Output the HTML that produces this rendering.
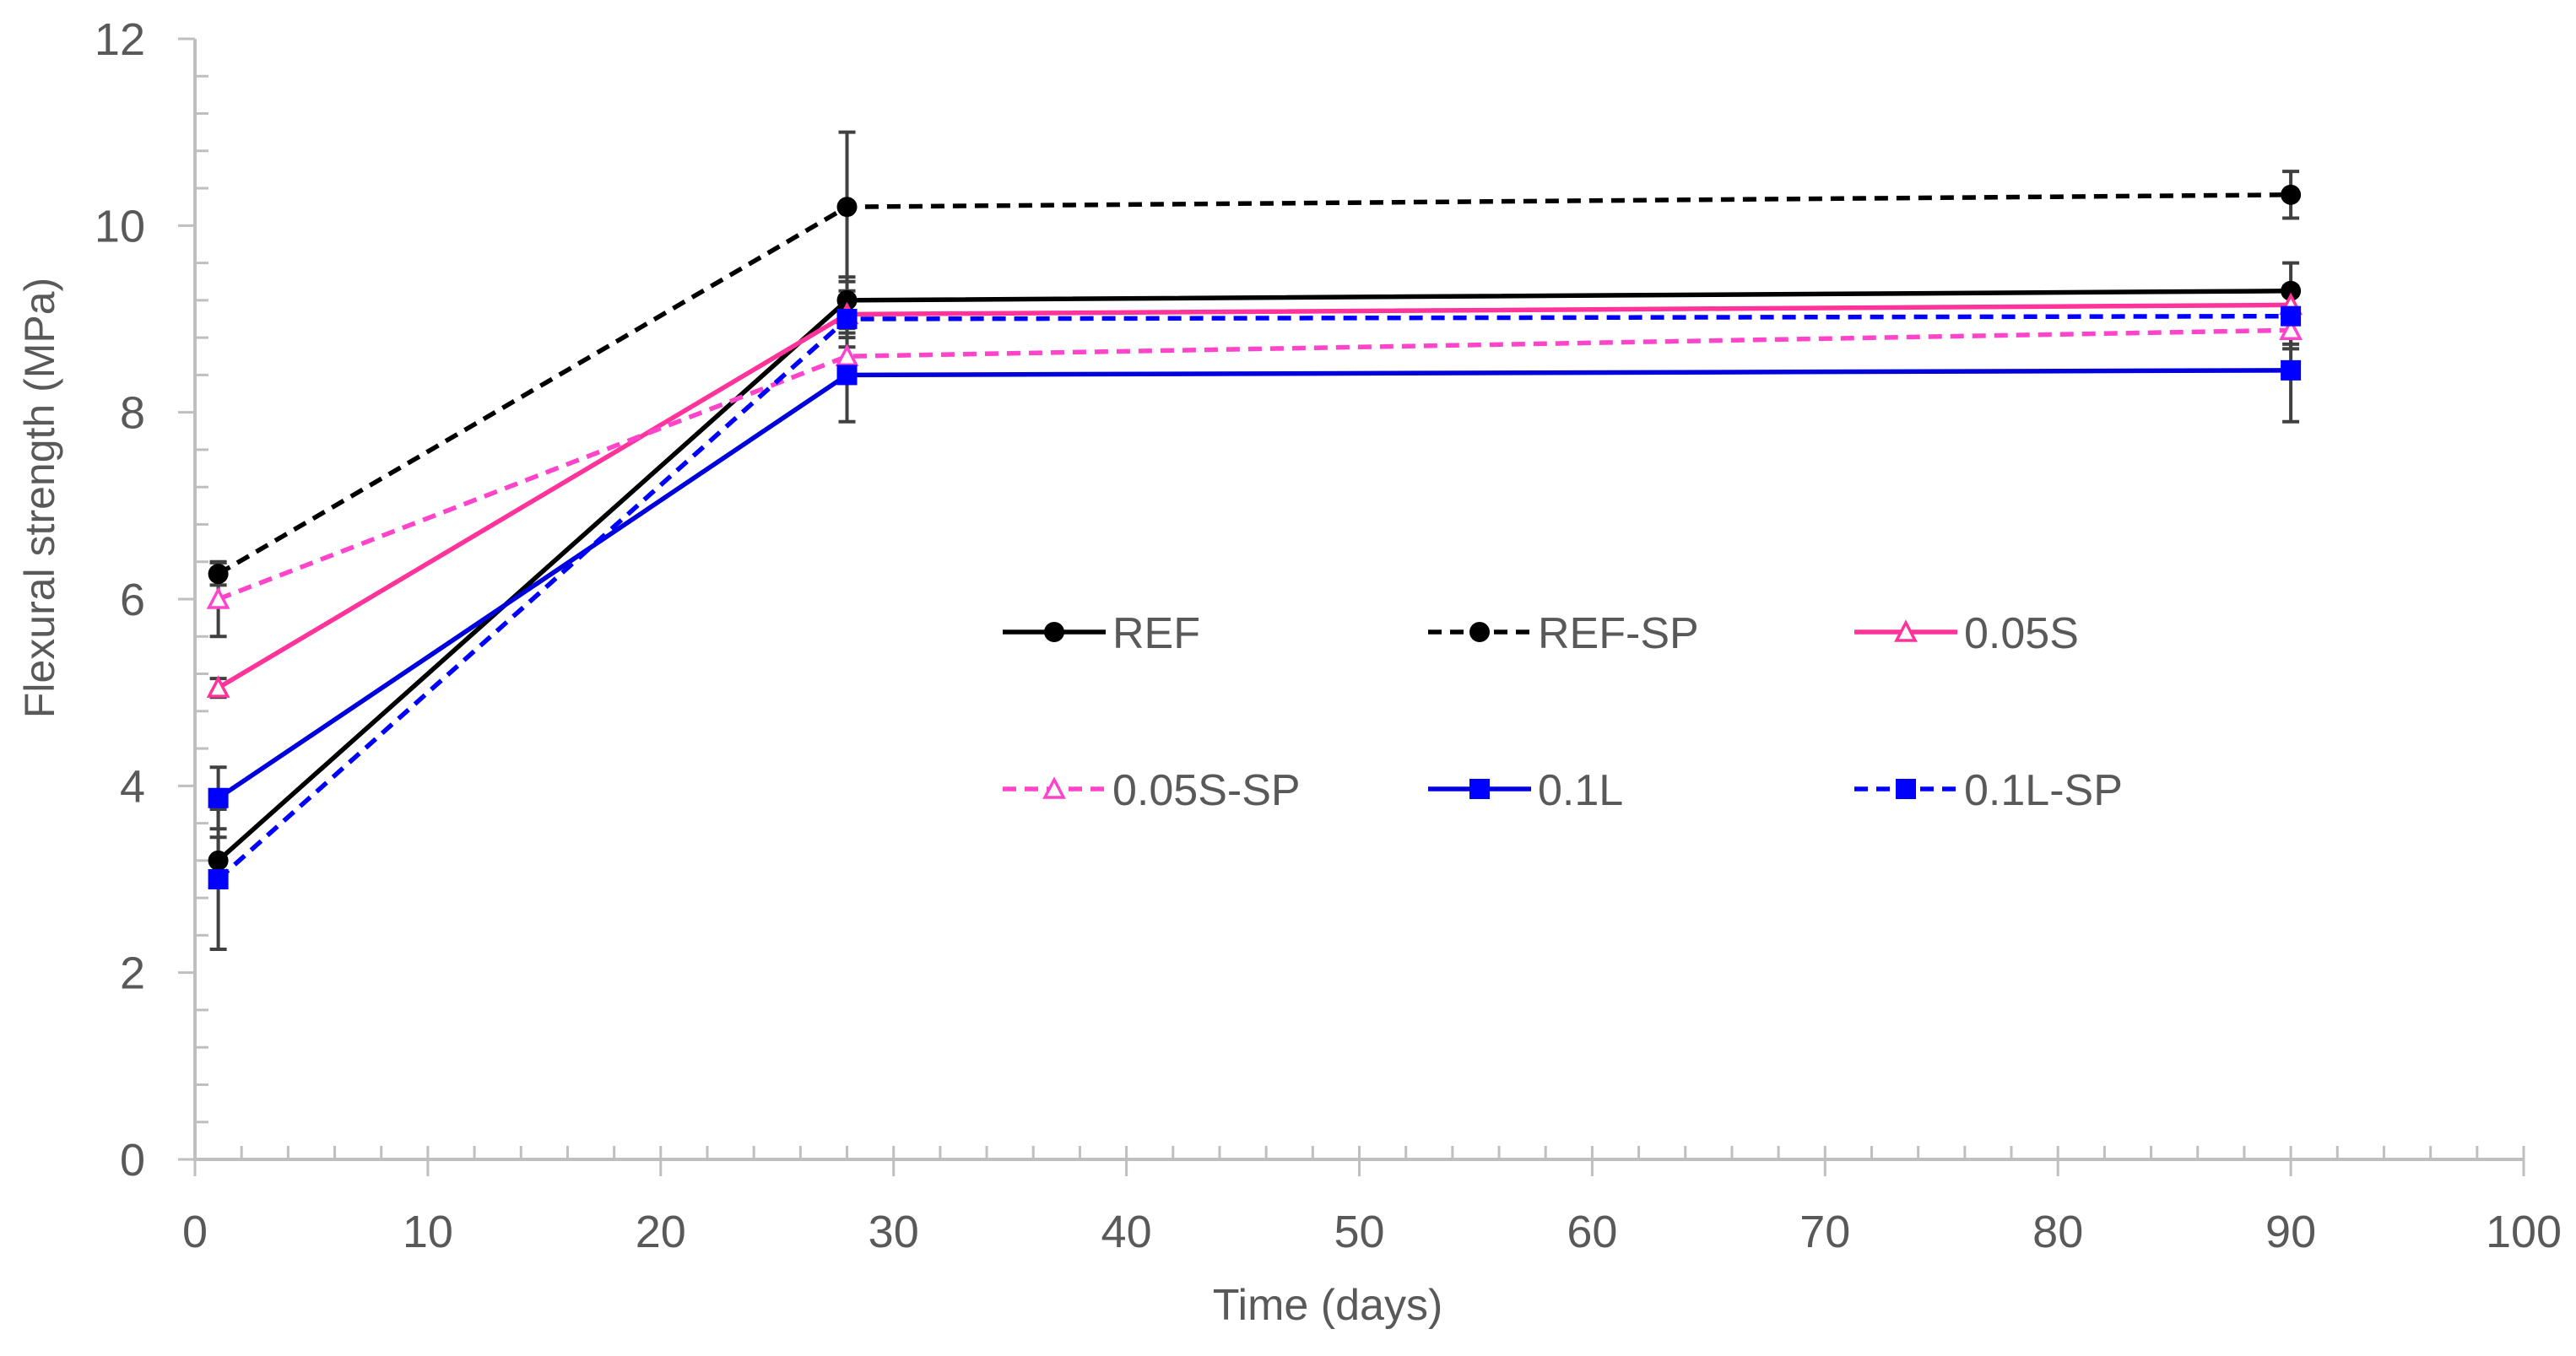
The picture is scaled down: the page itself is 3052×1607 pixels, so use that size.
<!DOCTYPE html>
<html><head><meta charset="utf-8"><style>
html,body{margin:0;padding:0;background:#fff;}
svg{display:block;font-family:"Liberation Sans",sans-serif;}
</style></head><body>
<svg id="chart" width="3052" height="1607" viewBox="0 0 3052 1607" xmlns="http://www.w3.org/2000/svg">
<rect width="3052" height="1607" fill="#fff"/>
<g id="axes"></g><g id="errs"></g><g id="lines"></g><g id="marks"></g><g id="legend"></g>
<text x="0" y="0" transform="translate(64,590) rotate(-90)" text-anchor="middle" font-size="50" fill="#595959">Flexural strength (MPa)</text>
<text x="1573" y="1564" text-anchor="middle" font-size="52" fill="#595959">Time (days)</text>
</svg>
<script>
const days = [1, 28, 90];
const seriesNames = ["REF", "REF-SP", "0.05S", "0.05S-SP", "0.1L", "0.1L-SP"];
const refVals = [3.2, 9.2, 9.3];
const refSpVals = [6.27, 10.2, 10.33];
const s05Vals = [5.05, 9.05, 9.15];
const s05SpVals = [6.0, 8.6, 8.88];
const l01Vals = [3.87, 8.4, 8.45];
const l01SpVals = [3.0, 9.0, 9.03];
const refErr = [0.25, 0.25, 0.3];
const refSpErr = [0.12, 0.8, 0.25];
const s05Err = [0.1, 0.2, 0.2];
const s05SpErr = [0.4, 0.2, 0.2];
const l01Err = [0.33, 0.5, 0.55];
const l01SpErr = [0.75, 0.3, 0.3];
const xTicks = [0,10,20,30,40,50,60,70,80,90,100];
const yTicks = [0,2,4,6,8,10,12];

const NS="http://www.w3.org/2000/svg";
const X0=231, X1=2990, Y0=1374, Y1=46;
const xs = v => X0 + (v/100)*(X1-X0);
const ys = v => Y0 - (v/12)*(Y0-Y1);
function mk(tag, attrs, parent){const e=document.createElementNS(NS,tag);for(const k in attrs)e.setAttribute(k,attrs[k]);parent.appendChild(e);return e;}
const axes=document.getElementById('axes');
const AX="#bfbfbf";
let e;
e=mk('line',{x1:X0,y1:Y0,x2:X0,y2:Y1,stroke:AX,'stroke-width':4},axes);


e=mk('line',{x1:X0-2,y1:Y0,x2:X1,y2:Y0,stroke:AX,'stroke-width':4},axes);


for(let v=0.4; v<12; v+=0.4){ if(Math.abs(v/2-Math.round(v/2))<1e-6) continue;
  mk('line',{x1:X0,y1:ys(v),x2:X0+16,y2:ys(v),stroke:AX,'stroke-width':3},axes);}
for(let v=2; v<100; v+=2){ if(v%10===0) continue;
  mk('line',{x1:xs(v),y1:Y0,x2:xs(v),y2:Y0-16,stroke:AX,'stroke-width':3},axes);}
yTicks.forEach(v=>{
  mk('line',{x1:X0-20,y1:ys(v),x2:X0,y2:ys(v),stroke:AX,'stroke-width':3},axes);
  const t=mk('text',{x:172,y:ys(v)+19,'text-anchor':'end','font-size':54,fill:'#595959'},axes);
  t.textContent=v;
  
  
});
xTicks.forEach(v=>{
  mk('line',{x1:xs(v),y1:Y0-16,x2:xs(v),y2:Y0+20,stroke:AX,'stroke-width':3},axes);
  const t=mk('text',{x:xs(v),y:1478,'text-anchor':'middle','font-size':54,fill:'#595959'},axes);
  t.textContent=v;
  
  
});
const series=[
 {vals:refVals,err:refErr,color:"#000",dash:null,marker:"circle"},
 {vals:refSpVals,err:refSpErr,color:"#000",dash:"16 10",marker:"circle"},
 {vals:s05Vals,err:s05Err,color:"#ff3399",dash:null,marker:"tri"},
 {vals:s05SpVals,err:s05SpErr,color:"#ff44cc",dash:"16 10",marker:"tri"},
 {vals:l01Vals,err:l01Err,color:"#0000dd",dash:null,marker:"square"},
 {vals:l01SpVals,err:l01SpErr,color:"#0000ff",dash:"16 10",marker:"square"}
];
function marker(type,x,y,color,parent){
  if(type==="circle") return mk('circle',{cx:x,cy:y,r:12,fill:'#000'},parent);
  if(type==="square") return mk('rect',{x:x-12,y:y-12,width:24,height:24,fill:'#0000ff'},parent);
  return mk('polygon',{points:`${x},${y-11} ${x-11},${y+10} ${x+11},${y+10}`,fill:'#fff',stroke:color,'stroke-width':3.5},parent);
}
const errs=document.getElementById('errs'),lines=document.getElementById('lines'),marks=document.getElementById('marks');
series.forEach((s,i)=>{
  s.vals.forEach((v,j)=>{
    const x=xs(days[j]),ya=ys(v+s.err[j]),yb=ys(v-s.err[j]);
    const g=mk('g',{stroke:'#404040','stroke-width':4},errs);
    
    
    mk('line',{x1:x,y1:ya,x2:x,y2:yb},g);
    mk('line',{x1:x-10,y1:ya,x2:x+10,y2:ya},g);
    mk('line',{x1:x-10,y1:yb,x2:x+10,y2:yb},g);
  });
  const pts=s.vals.map((v,j)=>xs(days[j])+','+ys(v)).join(' ');
  const pl=mk('polyline',{points:pts,fill:'none',stroke:s.color,'stroke-width':5.5},lines);
  if(s.dash) pl.setAttribute('stroke-dasharray',s.dash);
  
  
  s.vals.forEach((v,j)=>{
    const m=marker(s.marker,xs(days[j]),ys(v),s.color,marks);
    
    
  });
});
const legend=document.getElementById('legend');
const legPos=[[1188,749],[1692,749],[2197,749],[1188,935],[1692,935],[2197,935]];
series.forEach((s,i)=>{
  const [lx,ly]=legPos[i];
  const g=mk('g',{},legend);
  
  
  const l=mk('line',{x1:lx,y1:ly,x2:lx+122,y2:ly,stroke:s.color,'stroke-width':5.5},g);
  if(s.dash) l.setAttribute('stroke-dasharray','16 10');
  marker(s.marker,lx+61,ly,s.color,g);
  const t=mk('text',{x:lx+130,y:ly+19,'font-size':52,fill:'#595959'},g);
  t.textContent=seriesNames[i];
});
</script>
</body></html>
